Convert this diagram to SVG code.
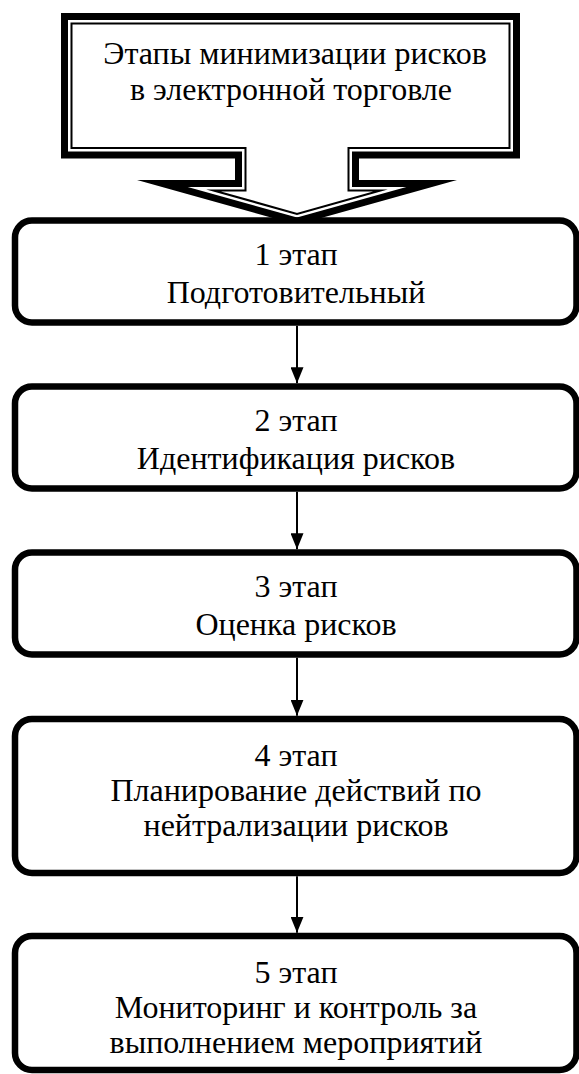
<svg xmlns="http://www.w3.org/2000/svg" width="579" height="1074" viewBox="0 0 579 1074">
  <style>
    text { font-family: "Liberation Serif", "DejaVu Serif", serif; font-size: 32px; fill: #000; text-anchor: middle; }
    .box { fill: #fff; stroke: #000; stroke-width: 6.5; }
    .thick { fill: #fff; stroke: #000; stroke-width: 7; stroke-linejoin: miter; stroke-miterlimit: 12; }
    .thin { fill: none; stroke: #000; stroke-width: 2; stroke-linejoin: miter; stroke-miterlimit: 12; }
    .conn { stroke: #000; stroke-width: 2; fill: none; }
  </style>
  <defs>
    <marker id="ah" viewBox="0 0 16 13" refX="16" refY="6.5" markerWidth="16" markerHeight="13" markerUnits="userSpaceOnUse" orient="auto">
      <path d="M0,0 L16,6.5 L0,13 z" fill="#000"/>
    </marker>
  </defs>
  <rect x="0" y="0" width="579" height="1074" fill="#fff"/>

  <g id="title">
    <path class="thick" d="M64.5,16.5 L516.5,16.5 L516.5,155 L355.5,155 L355.5,183.5 L431.5,183.5 L297,221.2 L162.5,183.5 L238.5,183.5 L238.5,155 L64.5,155 Z"/>
    <path class="thin" d="M71.5,23.5 L509.5,23.5 L509.5,148 L348.5,148 L348.5,190.5 L380.5,190.5 L297,213.9 L213.5,190.5 L245.5,190.5 L245.5,148 L71.5,148 Z"/>
    <text x="295" y="64">Этапы минимизации рисков</text>
    <text x="291" y="100">в электронной торговле</text>
  </g>

  <g id="connectors">
    <line class="conn" x1="297" y1="325.8" x2="297" y2="383.3" marker-end="url(#ah)"/>
    <line class="conn" x1="297" y1="491.8" x2="297" y2="549.3" marker-end="url(#ah)"/>
    <line class="conn" x1="297" y1="657.8" x2="297" y2="715.8" marker-end="url(#ah)"/>
    <line class="conn" x1="297" y1="876.3" x2="297" y2="932.8" marker-end="url(#ah)"/>
  </g>

  <g id="stage1">
    <rect class="box" x="15" y="220.5" width="561.5" height="102" rx="17" ry="17"/>
    <text x="296" y="265">1 этап</text>
    <text x="296" y="303">Подготовительный</text>
  </g>
  <g id="stage2">
    <rect class="box" x="15" y="386.5" width="561.5" height="102" rx="17" ry="17"/>
    <text x="296" y="431">2 этап</text>
    <text x="296" y="469">Идентификация рисков</text>
  </g>
  <g id="stage3">
    <rect class="box" x="15" y="552.5" width="561.5" height="102" rx="17" ry="17"/>
    <text x="296" y="597">3 этап</text>
    <text x="296" y="635">Оценка рисков</text>
  </g>
  <g id="stage4">
    <rect class="box" x="15" y="719" width="561.5" height="154" rx="17" ry="17"/>
    <text x="296" y="766">4 этап</text>
    <text x="296" y="801">Планирование действий по</text>
    <text x="296" y="836">нейтрализации рисков</text>
  </g>
  <g id="stage5">
    <rect class="box" x="15" y="936" width="561.5" height="134" rx="17" ry="17"/>
    <text x="296" y="983">5 этап</text>
    <text x="296" y="1018">Мониторинг и контроль за</text>
    <text x="296" y="1053">выполнением мероприятий</text>
  </g>
</svg>
